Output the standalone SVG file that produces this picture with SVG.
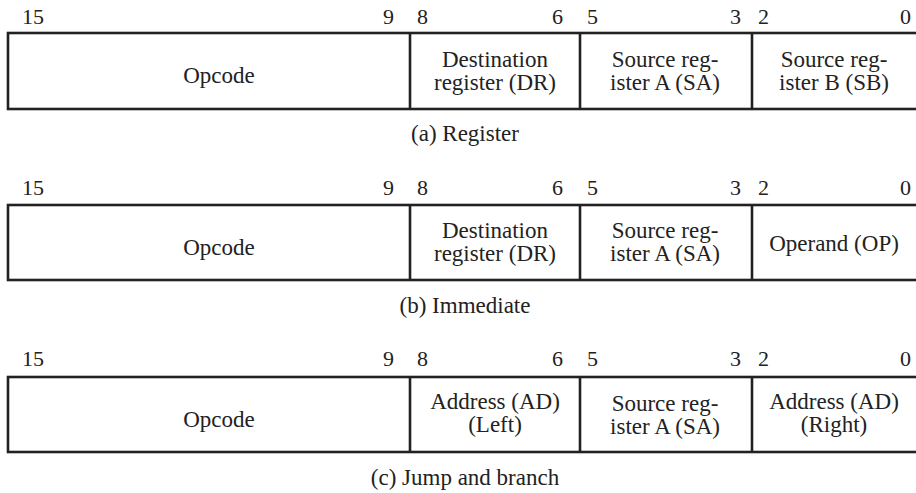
<svg xmlns="http://www.w3.org/2000/svg" width="916" height="493" viewBox="0 0 916 493" font-family="'Liberation Serif', 'DejaVu Serif', serif">
<style>
text{font-family:'Liberation Serif','DejaVu Serif',serif;fill:#222}
.f{font-size:23px;text-anchor:middle}
.b{font-size:22px}
.e{text-anchor:end}
.cap{font-size:23px;text-anchor:middle}
.box{fill:#fff;stroke:#222;stroke-width:2.6}
.div{stroke:#222;stroke-width:2.6}
</style>
<rect width="916" height="493" fill="#fff"/>

<g id="format-a">
  <g id="a-bits">
    <text class="b" x="22" y="24">15</text>
    <text class="b e" x="394" y="24">9</text>
    <text class="b" x="417" y="24">8</text>
    <text class="b e" x="563" y="24">6</text>
    <text class="b" x="587" y="24">5</text>
    <text class="b e" x="741" y="24">3</text>
    <text class="b" x="758" y="24">2</text>
    <text class="b e" x="911" y="24">0</text>
  </g>
  <rect class="box" x="8" y="33" width="912" height="76"/>
  <g id="a-opcode"><text class="f" x="219" y="83">Opcode</text></g>
  <g id="a-dr"><line class="div" x1="410" y1="33" x2="410" y2="109"/>
    <text class="f" x="495" y="67">Destination</text><text class="f" x="495" y="90">register (DR)</text></g>
  <g id="a-sa"><line class="div" x1="580" y1="33" x2="580" y2="109"/>
    <text class="f" x="665" y="67">Source reg-</text><text class="f" x="665" y="90">ister A (SA)</text></g>
  <g id="a-sb"><line class="div" x1="752" y1="33" x2="752" y2="109"/>
    <text class="f" x="834" y="67">Source reg-</text><text class="f" x="834" y="90">ister B (SB)</text></g>
  <text class="cap" x="465" y="141">(a) Register</text>
</g>

<g id="format-b">
  <g id="b-bits">
    <text class="b" x="22" y="195">15</text>
    <text class="b e" x="394" y="195">9</text>
    <text class="b" x="417" y="195">8</text>
    <text class="b e" x="563" y="195">6</text>
    <text class="b" x="587" y="195">5</text>
    <text class="b e" x="741" y="195">3</text>
    <text class="b" x="758" y="195">2</text>
    <text class="b e" x="911" y="195">0</text>
  </g>
  <rect class="box" x="8" y="205" width="912" height="75"/>
  <g id="b-opcode"><text class="f" x="219" y="255">Opcode</text></g>
  <g id="b-dr"><line class="div" x1="410" y1="205" x2="410" y2="280"/>
    <text class="f" x="495" y="238">Destination</text><text class="f" x="495" y="261">register (DR)</text></g>
  <g id="b-sa"><line class="div" x1="580" y1="205" x2="580" y2="280"/>
    <text class="f" x="665" y="238">Source reg-</text><text class="f" x="665" y="261">ister A (SA)</text></g>
  <g id="b-op"><line class="div" x1="752" y1="205" x2="752" y2="280"/>
    <text class="f" x="834" y="251">Operand (OP)</text></g>
  <text class="cap" x="465" y="313">(b) Immediate</text>
</g>

<g id="format-c">
  <g id="c-bits">
    <text class="b" x="22" y="366">15</text>
    <text class="b e" x="394" y="366">9</text>
    <text class="b" x="417" y="366">8</text>
    <text class="b e" x="563" y="366">6</text>
    <text class="b" x="587" y="366">5</text>
    <text class="b e" x="741" y="366">3</text>
    <text class="b" x="758" y="366">2</text>
    <text class="b e" x="911" y="366">0</text>
  </g>
  <rect class="box" x="8" y="377" width="912" height="75"/>
  <g id="c-opcode"><text class="f" x="219" y="427">Opcode</text></g>
  <g id="c-adl"><line class="div" x1="410" y1="377" x2="410" y2="452"/>
    <text class="f" x="495" y="409">Address (AD)</text><text class="f" x="495" y="432">(Left)</text></g>
  <g id="c-sa"><line class="div" x1="580" y1="377" x2="580" y2="452"/>
    <text class="f" x="665" y="411">Source reg-</text><text class="f" x="665" y="434">ister A (SA)</text></g>
  <g id="c-adr"><line class="div" x1="752" y1="377" x2="752" y2="452"/>
    <text class="f" x="834" y="409">Address (AD)</text><text class="f" x="834" y="432">(Right)</text></g>
  <text class="cap" x="465" y="485">(c) Jump and branch</text>
</g>
</svg>
